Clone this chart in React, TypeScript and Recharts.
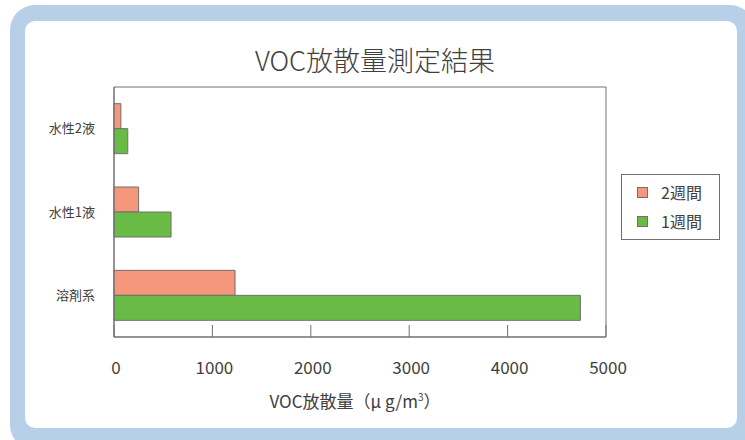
import {
  BarChart,
  Bar,
  XAxis,
  YAxis,
  ReferenceArea,
} from "recharts";

const categories = ["水性2液", "水性1液", "溶剤系"];
const week2 = [70, 250, 1230];
const week1 = [140, 580, 4740];
const xTicks = [0, 1000, 2000, 3000, 4000, 5000];

const SERIES = [
  { key: "week2", name: "2週間", color: "#f4977a" },
  { key: "week1", name: "1週間", color: "#69bb45" },
];

const FONT = '"Noto Sans CJK JP", "Noto Sans", sans-serif';
const TEXT = "#404040";
const LINE = "#707070";

const data = categories.map((name, i) => ({
  name,
  week2: week2[i],
  week1: week1[i],
}));

const XTick = (props: any) => {
  const { x, y, payload } = props;
  return (
    <g>
      <line x1={x} x2={x} y1={y - 12} y2={y} stroke={LINE} />
      <text
        x={x + 2}
        y={y + 31}
        dy="0.355em"
        textAnchor="middle"
        fill={TEXT}
        fontSize={17}
        fontFamily={FONT}
      >
        {payload.value}
      </text>
    </g>
  );
};

const App = () => {
  return (
    <div
      style={{
        position: "absolute",
        left: 0,
        top: 0,
        width: 745,
        height: 440,
        overflow: "hidden",
        background: "#fff",
        fontFamily: FONT,
      }}
    >
      <div
        style={{
          position: "absolute",
          left: 10,
          top: 5,
          width: 745,
          height: 445,
          borderRadius: 25,
          background: "#b8cfe8",
        }}
      />
      <div
        style={{
          position: "absolute",
          left: 25,
          top: 21,
          width: 712,
          height: 407,
          borderRadius: 10,
          background: "#fff",
        }}
      />

      <div
        style={{
          position: "absolute",
          left: 0,
          top: 45,
          width: 750,
          textAlign: "center",
          fontSize: 27,
          lineHeight: "30px",
          fontWeight: 300,
          color: TEXT,
        }}
      >
        VOC放散量測定結果
      </div>

      <div style={{ position: "absolute", left: 0, top: 0 }}>
        <BarChart
          width={745}
          height={440}
          data={data}
          layout="vertical"
          margin={{ top: 87, right: 139, bottom: 43, left: 0 }}
          barCategoryGap="20%"
          barGap={0}
        >
          <XAxis
            type="number"
            domain={[0, 5000]}
            ticks={xTicks}
            height={60}
            tickSize={0}
            tickMargin={0}
            tickLine={false}
            axisLine={{ stroke: LINE }}
            tick={<XTick />}
            interval={0}
          />
          <YAxis
            type="category"
            dataKey="name"
            width={114}
            tickSize={0}
            tickMargin={19}
            tickLine={false}
            axisLine={{ stroke: LINE }}
            tick={{ fill: TEXT, fontSize: 13, fontFamily: FONT }}
          />
          <ReferenceArea
            x1={0}
            x2={5000}
            fill="none"
            stroke={LINE}
            strokeWidth={1}
          />
          {SERIES.map((s) => (
            <Bar
              key={s.key}
              dataKey={s.key}
              name={s.name}
              fill={s.color}
              stroke={LINE}
              strokeWidth={1}
              isAnimationActive={false}
            />
          ))}
        </BarChart>
      </div>

      <div
        style={{
          position: "absolute",
          left: 0,
          top: 386,
          width: 710,
          textAlign: "center",
          fontSize: 17,
          lineHeight: "22px",
          color: TEXT,
        }}
      >
        VOC放散量（μ g/m<sup style={{ fontSize: 10 }}>3</sup>）
      </div>

      <div
        style={{
          position: "absolute",
          left: 621,
          top: 174,
          width: 97,
          height: 64,
          border: `1px solid ${LINE}`,
          background: "#fff",
        }}
      >
        {SERIES.map((s, i) => (
          <div
            key={s.key}
            style={{
              position: "absolute",
              left: 15,
              top: 7 + i * 29,
              height: 20,
              display: "flex",
              alignItems: "center",
              fontSize: 16,
              color: TEXT,
              whiteSpace: "nowrap",
            }}
          >
            <span
              style={{
                display: "inline-block",
                width: 9,
                height: 9,
                background: s.color,
                border: `1px solid ${LINE}`,
                marginRight: 13,
              }}
            />
            {s.name}
          </div>
        ))}
      </div>
    </div>
  );
};

export default App;
